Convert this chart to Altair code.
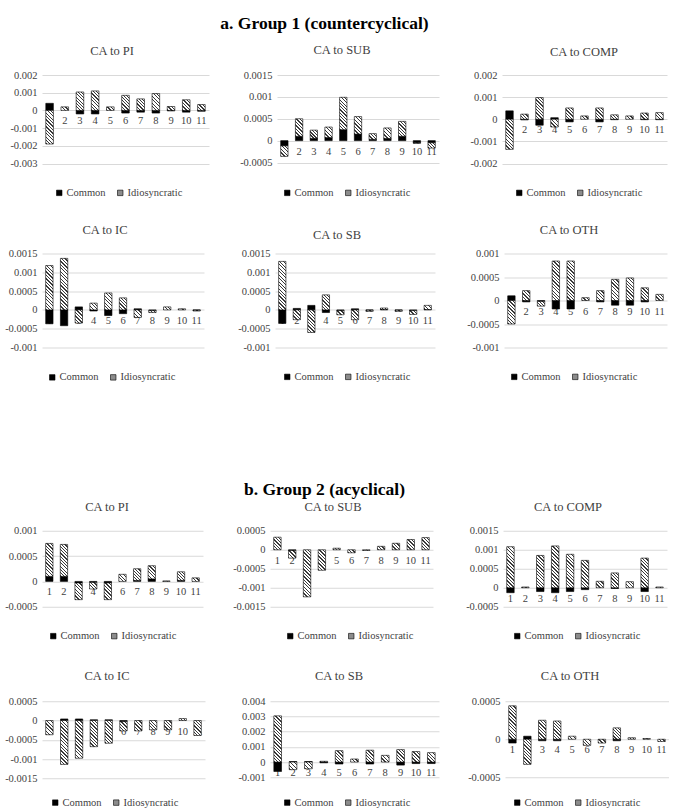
import altair as alt
import pandas as pd

# ---------------------------------------------------------------- data
CATS = list(range(1, 12))
SERIES = ["Common", "Idiosyncratic"]
HEAD_A = "a. Group 1 (countercyclical)"
HEAD_B = "b. Group 2 (acyclical)"

# Group 1 (countercyclical)
G1_PI_TITLE = "CA to PI"
G1_PI_COMMON = [0.0004, 0.0, -0.0002, -0.0002, 0.0, -0.00015, -0.0001, -0.00015, -0.00003, -0.0001, -0.00005]
G1_PI_IDIO = [-0.0019, 0.0002, 0.00104, 0.0011, 0.0002, 0.00085, 0.00065, 0.00095, 0.00022, 0.0006, 0.00033]
G1_PI_TICKS = [-0.003, -0.002, -0.001, 0, 0.001, 0.002]

G1_SUB_TITLE = "CA to SUB"
G1_SUB_COMMON = [-0.00012, 0.0001, 0.00005, 0.00007, 0.00025, 0.00015, 0.00003, 0.00005, 0.0001, -0.00005, -0.00005]
G1_SUB_IDIO = [-0.00024, 0.0004, 0.00019, 0.00024, 0.00074, 0.0004, 0.00013, 0.00024, 0.00034, -0.00001, -0.00012]
G1_SUB_TICKS = [-0.0005, 0, 0.0005, 0.001, 0.0015]

G1_COMP_TITLE = "CA to COMP"
G1_COMP_COMMON = [0.00038, -0.00003, -0.00027, 0.00007, -0.00012, 0.0, -0.00012, -0.00002, 0.0, -0.00002, -0.00002]
G1_COMP_IDIO = [-0.00136, 0.00023, 0.00098, -0.00035, 0.00051, 0.00015, 0.00051, 0.0002, 0.00015, 0.00028, 0.0003]
G1_COMP_TICKS = [-0.002, -0.001, 0, 0.001, 0.002]

G1_IC_TITLE = "CA to IC"
G1_IC_COMMON = [-0.00037, -0.00042, 0.00008, -0.00003, -0.00015, -0.0001, 0.00003, -0.00002, 0.0, 0.0, -0.00001]
G1_IC_IDIO = [0.00118, 0.00137, -0.00035, 0.00018, 0.00045, 0.00032, -0.0002, -0.00005, 0.00008, 0.00003, -0.00002]
G1_IC_TICKS = [-0.001, -0.0005, 0, 0.0005, 0.001, 0.0015]

G1_SB_TITLE = "CA to SB"
G1_SB_COMMON = [-0.00036, 0.00004, 0.00012, -0.00007, -0.00002, 0.00003, -0.00001, 0.00001, -0.00001, -0.00002, 0.00001]
G1_SB_IDIO = [0.00129, -0.00026, -0.0006, 0.0004, -0.00011, -0.00026, -0.00003, 0.00004, -0.00003, -0.0001, 0.00011]
G1_SB_TICKS = [-0.001, -0.0005, 0, 0.0005, 0.001, 0.0015]

G1_OTH_TITLE = "CA to OTH"
G1_OTH_COMMON = [0.0001, -0.00003, -0.00002, -0.00018, -0.00018, 0.0, -0.00003, -0.0001, -0.0001, -0.00003, 0.0]
G1_OTH_IDIO = [-0.0005, 0.00021, -0.0001, 0.00084, 0.00084, 0.00006, 0.00021, 0.00045, 0.00048, 0.00027, 0.00013]
G1_OTH_TICKS = [-0.001, -0.0005, 0, 0.0005, 0.001]

# Group 2 (acyclical)
G2_PI_TITLE = "CA to PI"
G2_PI_COMMON = [0.0001, 0.0001, -0.00003, -0.00002, -0.00003, 0.0, 0.00002, 0.00005, 0.0, 0.00002, 0.0]
G2_PI_IDIO = [0.00065, 0.00063, -0.00033, -0.00013, -0.00033, 0.00014, 0.00023, 0.00026, 0.00001, 0.00017, 0.00007]
G2_PI_TICKS = [-0.0005, 0, 0.0005, 0.001]

G2_SUB_TITLE = "CA to SUB"
G2_SUB_COMMON = [0.0, -0.00002, 0.0, 0.0, 0.0, 0.0, 0.0, 0.0, 0.0, 0.0, 0.0]
G2_SUB_IDIO = [0.00033, -0.0002, -0.00124, -0.00054, 0.00004, -0.00008, -0.00002, 0.00009, 0.00017, 0.00027, 0.00032]
G2_SUB_TICKS = [-0.0015, -0.001, -0.0005, 0, 0.0005]

G2_COMP_TITLE = "CA to COMP"
G2_COMP_COMMON = [-0.00013, 0.0, -0.0001, -0.00013, -0.0001, -0.00005, 0.0, -0.00002, 0.0, -0.0001, 0.0]
G2_COMP_IDIO = [0.00108, 0.00002, 0.00085, 0.0011, 0.00088, 0.00072, 0.00017, 0.00039, 0.00016, 0.00078, 0.00002]
G2_COMP_TICKS = [-0.0005, 0, 0.0005, 0.001, 0.0015]

G2_IC_TITLE = "CA to IC"
G2_IC_COMMON = [0.0, 0.00004, 0.00004, 0.00002, 0.00002, -0.00003, 0.0, 0.0, 0.0, 0.0, 0.0]
G2_IC_IDIO = [-0.00037, -0.00114, -0.00098, -0.00068, -0.00059, -0.00024, -0.00027, -0.00024, -0.00024, 0.00005, -0.00039]
G2_IC_TICKS = [-0.0015, -0.001, -0.0005, 0, 0.0005]

G2_SB_TITLE = "CA to SB"
G2_SB_COMMON = [-0.00062, 0.00003, 0.00003, -0.00005, -0.00013, 0.0, -0.00013, 0.0, -0.0002, -0.0001, -0.0001]
G2_SB_IDIO = [0.00304, -0.0005, -0.00044, 0.00005, 0.00075, 0.0002, 0.00078, 0.00044, 0.00082, 0.00069, 0.00062]
G2_SB_TICKS = [-0.001, 0, 0.001, 0.002, 0.003, 0.004]

G2_OTH_TITLE = "CA to OTH"
G2_OTH_COMMON = [-0.00005, 0.00004, -0.00002, -0.00002, 0.0, 0.0, 0.0, -0.00002, 0.0, 0.0, 0.0]
G2_OTH_IDIO = [0.00044, -0.00033, 0.00025, 0.00024, 0.00004, -0.00008, -0.00005, 0.00015, 0.00002, 0.00001, -0.00003]
G2_OTH_TICKS = [-0.0005, 0, 0.0005]

# ---------------------------------------------------------------- layout
# plot box on the page: left, right, top, bottom,
# title centre (x, y), legend left x, legend centre y
BOX = {
    "A1": (33, 200, 75.5, 164, 103, 51, 45, 191),
    "A2": (268, 430, 75.5, 163, 333, 50, 273, 191),
    "A3": (493, 658, 75.5, 164, 575, 52.5, 505, 191),
    "B1": (40, 202, 254, 348, 103, 230, 45, 375.5),
    "B2": (273, 433, 254, 348, 335, 235, 280, 375),
    "B3": (502, 665, 254, 348, 567, 230, 507, 375),
    "C1": (42, 203, 532, 608, 107, 508.3, 48, 635),
    "C2": (270, 433, 532, 608, 333, 508.3, 285, 635),
    "C3": (503, 667, 532, 608, 568, 508.3, 512, 635),
    "D1": (40, 203, 700, 777, 105, 675, 48, 799),
    "D2": (268, 437, 700, 776, 337, 675, 280, 799),
    "D3": (503, 667, 700, 776, 568, 675, 510, 799),
}
HSPACE = 10
ROW_SPACE_A = 24.5
ROW_SPACE_B = 28.5
GROUP_SPACE = 96.75
HEAD_OFFSET_A = 10.75
HEAD_OFFSET_B = 3
PAD_TOP = 15

FONT = "Liberation Serif"
INK = "#3f3f3f"
GRID = "#d9d9d9"
STRIPE = "#3a3a3a"


def hatch(w, h, period=3.4):
    """Diagonal stripe fill for a w x h pixel bar, built as a hard-stop gradient."""
    n = max(1, round((w + h) / period))
    k = (w + h) / (w * w + h * h)
    stops = []
    for i in range(n):
        a, b, c = i / n, (i + 0.38) / n, (i + 1) / n
        stops += [
            {"offset": round(a, 5), "color": STRIPE},
            {"offset": round(b, 5), "color": STRIPE},
            {"offset": round(b, 5), "color": "white"},
            {"offset": round(c, 5), "color": "white"},
        ]
    return {"gradient": "linear", "x1": 0, "y1": 1,
            "x2": round(w * k, 5), "y2": round(1 - h * k, 5), "stops": stops}


def panel(key, title, common, idio, ticks, prev_right):
    left, right, top, bottom, tcx, tcy, leg_left, leg_cy = BOX[key]
    width, height = right - left, bottom - top
    lo, hi = ticks[0], ticks[-1]
    extent = left if prev_right is None else left - prev_right - HSPACE
    bar_w = 0.5 * width / len(CATS)

    rows = []
    for c, v in zip(CATS, common):
        if v != 0:
            rows.append({"cat": c, "series": "Common", "ord": 0, "value": v})
    for c, v in zip(CATS, idio):
        if v != 0:
            rows.append({"cat": c, "series": "Idiosyncratic", "ord": 1, "value": v})

    conds = []
    for c, v in zip(CATS, idio):
        if v != 0:
            h = abs(v) * height / (hi - lo)
            conds.append({"test": f"datum.series === 'Idiosyncratic' && datum.cat === {c}",
                          "value": hatch(bar_w, h)})

    xscale = alt.Scale(paddingInner=0.5, paddingOuter=0.25)
    yscale = alt.Scale(domain=[lo, hi], nice=False)
    yaxis = alt.Axis(values=ticks, labelExpr="toString(round(datum.value*100000)/100000)",
                     grid=True, gridColor=GRID, gridWidth=1, domain=False, ticks=False,
                     labelFont=FONT, labelFontSize=10.5, labelColor=INK, labelPadding=5,
                     labelOverlap=False, minExtent=extent, title=None)

    labels = alt.Chart(pd.DataFrame({"cat": CATS, "label": [str(c) for c in CATS]})).mark_text(
        font=FONT, fontSize=10.5, color=INK, baseline="middle", dy=11
    ).encode(
        x=alt.X("cat:O", scale=xscale, axis=None),
        y=alt.YDatum(0, type="quantitative", scale=yscale, axis=yaxis),
        text="label:N",
    )

    legend = alt.Legend(orient="none", legendX=leg_left - left, legendY=leg_cy - 3 - top,
                        direction="horizontal", title=None, symbolType="square", symbolSize=30,
                        symbolStrokeColor="black", symbolStrokeWidth=0.6, labelFont=FONT,
                        labelFontSize=10.5, labelColor=INK, labelOffset=2, columnPadding=9,
                        padding=0)

    bars = alt.Chart(pd.DataFrame(rows)).mark_bar(stroke="black", strokeWidth=0.6).encode(
        x=alt.X("cat:O", scale=xscale, axis=None),
        y=alt.Y("value:Q", stack="zero", scale=yscale, axis=yaxis),
        fill=alt.Fill("series:N", scale=alt.Scale(domain=SERIES, range=["black", "#8c8c8c"]),
                      legend=legend, condition=conds),
        order=alt.Order("ord:Q"),
    )

    return alt.layer(labels, bars).properties(
        width=width, height=height,
        title=alt.TitleParams(title, font=FONT, fontSize=12.5, fontWeight="normal", color=INK,
                              anchor="middle", frame="group", offset=top - 11.5 - tcy,
                              dx=tcx - (left + right) / 2),
    )


def row(keys, specs):
    charts, prev = [], None
    for k, s in zip(keys, specs):
        charts.append(panel(k, *s, prev))
        prev = BOX[k][1]
    return alt.hconcat(*charts, spacing=HSPACE).resolve_scale(fill="independent").resolve_legend(fill="independent")


row_a1 = row(["A1", "A2", "A3"], [
    (G1_PI_TITLE, G1_PI_COMMON, G1_PI_IDIO, G1_PI_TICKS),
    (G1_SUB_TITLE, G1_SUB_COMMON, G1_SUB_IDIO, G1_SUB_TICKS),
    (G1_COMP_TITLE, G1_COMP_COMMON, G1_COMP_IDIO, G1_COMP_TICKS),
])
row_a2 = row(["B1", "B2", "B3"], [
    (G1_IC_TITLE, G1_IC_COMMON, G1_IC_IDIO, G1_IC_TICKS),
    (G1_SB_TITLE, G1_SB_COMMON, G1_SB_IDIO, G1_SB_TICKS),
    (G1_OTH_TITLE, G1_OTH_COMMON, G1_OTH_IDIO, G1_OTH_TICKS),
])
row_b1 = row(["C1", "C2", "C3"], [
    (G2_PI_TITLE, G2_PI_COMMON, G2_PI_IDIO, G2_PI_TICKS),
    (G2_SUB_TITLE, G2_SUB_COMMON, G2_SUB_IDIO, G2_SUB_TICKS),
    (G2_COMP_TITLE, G2_COMP_COMMON, G2_COMP_IDIO, G2_COMP_TICKS),
])
row_b2 = row(["D1", "D2", "D3"], [
    (G2_IC_TITLE, G2_IC_COMMON, G2_IC_IDIO, G2_IC_TICKS),
    (G2_SB_TITLE, G2_SB_COMMON, G2_SB_IDIO, G2_SB_TICKS),
    (G2_OTH_TITLE, G2_OTH_COMMON, G2_OTH_IDIO, G2_OTH_TICKS),
])


def heading(text, offset):
    return alt.TitleParams(text, font=FONT, fontSize=17.5, fontWeight="bold", color="black",
                           anchor="middle", offset=offset, dx=-10)


group_a = alt.vconcat(row_a1, row_a2, spacing=ROW_SPACE_A).properties(
    title=heading(HEAD_A, HEAD_OFFSET_A)
).resolve_scale(fill="independent").resolve_legend(fill="independent")

group_b = alt.vconcat(row_b1, row_b2, spacing=ROW_SPACE_B).properties(
    title=heading(HEAD_B, HEAD_OFFSET_B)
).resolve_scale(fill="independent").resolve_legend(fill="independent")

chart = alt.vconcat(group_a, group_b, spacing=GROUP_SPACE).resolve_scale(
    fill="independent"
).resolve_legend(fill="independent").properties(
    padding={"left": 0, "top": PAD_TOP, "right": 0, "bottom": 0}, background="white"
).configure_view(stroke=None)

chart.save("out.html", embed_options={"renderer": "svg", "actions": False})
